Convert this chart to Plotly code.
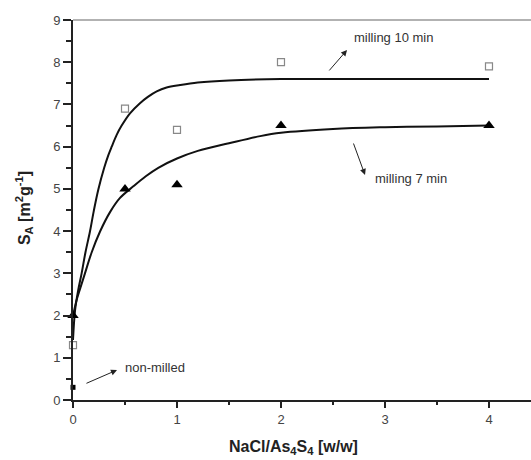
import plotly.graph_objects as go

# Measured data
ratio = [0, 0.5, 1, 2, 4]
sa_10min = [1.3, 6.9, 6.4, 8.0, 7.9]
sa_7min = [2.0, 5.0, 5.1, 6.5, 6.5]
nonmilled_x = [0]
nonmilled_y = [0.3]

# Fitted curves
fit10_x = [0, 0.02, 0.05, 0.083, 0.12, 0.163, 0.2, 0.243, 0.3, 0.34, 0.372, 0.42, 0.468, 0.548, 0.644, 0.72, 0.805, 0.9, 1.03, 1.2, 1.5, 2, 3, 4]
fit10_y = [1.42, 2.13, 2.6, 3.0, 3.5, 3.99, 4.48, 4.98, 5.5, 5.8, 6.0, 6.28, 6.5, 6.79, 7.03, 7.18, 7.31, 7.4, 7.46, 7.52, 7.57, 7.6, 7.6, 7.6]
fit7_x = [0, 0.035, 0.07, 0.115, 0.18, 0.26, 0.356, 0.45, 0.58, 0.7, 0.82, 1.0, 1.2, 1.5, 1.8, 2.0, 2.5, 3, 3.5, 4]
fit7_y = [2.0, 2.37, 2.65, 3.0, 3.5, 3.99, 4.45, 4.78, 5.06, 5.3, 5.5, 5.72, 5.9, 6.08, 6.25, 6.33, 6.42, 6.46, 6.48, 6.5]

x_ticks = [0, 1, 2, 3, 4]
y_ticks = [0, 1, 2, 3, 4, 5, 6, 7, 8, 9]

fig = go.Figure()
fig.add_trace(go.Scatter(x=fit10_x, y=fit10_y, mode="lines", line=dict(color="#111", width=2, shape="spline", smoothing=1), showlegend=False))
fig.add_trace(go.Scatter(x=fit7_x, y=fit7_y, mode="lines", line=dict(color="#111", width=2, shape="spline", smoothing=1), showlegend=False))
fig.add_trace(go.Scatter(x=ratio, y=sa_10min, mode="markers", cliponaxis=False,
                         marker=dict(symbol="square-open", size=7, color="#888", line=dict(width=1.2)), showlegend=False))
fig.add_trace(go.Scatter(x=ratio, y=sa_7min, mode="markers", cliponaxis=False,
                         marker=dict(symbol="triangle-up", size=10, color="#000"), showlegend=False))
fig.add_trace(go.Scatter(x=nonmilled_x, y=nonmilled_y, mode="markers", cliponaxis=False,
                         marker=dict(symbol="square", size=5, color="#000"), showlegend=False))

font_main = "Liberation Sans, Arial, sans-serif"
fig.update_layout(
    width=531, height=460,
    margin=dict(l=73, r=0, t=20, b=60),
    paper_bgcolor="white", plot_bgcolor="white",
    font=dict(family=font_main, size=13, color="#444"),
    xaxis=dict(range=[0, 4.404], tickvals=x_ticks, ticks="outside", ticklen=6, tickwidth=1.5, automargin=False,
               tickcolor="#222", showline=True, linecolor="#222", linewidth=2, showgrid=False, zeroline=False,
               minor=dict(dtick=0.5, ticks="outside", ticklen=3, tickwidth=1.5, tickcolor="#222"),
               tickfont=dict(size=13, color="#444")),
    yaxis=dict(range=[0, 9], tickvals=y_ticks, ticks="outside", ticklen=8, tickwidth=1.5, automargin=False,
               tickcolor="#222", showline=True, linecolor="#222", linewidth=2, showgrid=False, zeroline=False,
               minor=dict(dtick=0.5, ticks="outside", ticklen=5, tickwidth=1.5, tickcolor="#222"),
               tickfont=dict(size=13, color="#444")),
    shapes=[dict(type="line", xref="paper", yref="paper", x0=0, x1=1, y0=1, y1=1,
                 line=dict(color="#999", width=1.5))],
)

ann = []
# axis titles
ann.append(dict(xref="paper", yref="paper", x=0.4825, y=-0.1237, text="<b>NaCl/As<sub>4</sub>S<sub>4</sub> [w/w]</b>",
                showarrow=False, font=dict(size=16, color="#222"), xanchor="center", yanchor="middle"))
ann.append(dict(xref="paper", yref="paper", x=-0.107, y=0.505, text="<b>S<sub>A</sub> [m<sup>2</sup>g<sup>-1</sup>]</b>",
                showarrow=False, textangle=-90, font=dict(size=16, color="#222"), xanchor="center", yanchor="middle"))
# arrows
for (hx, hy, tx, ty) in [(2.635, 8.29, 2.452, 7.77), (2.808, 5.33, 2.692, 6.11), (0.423, 0.71, 0.115, 0.38)]:
    ann.append(dict(x=hx, y=hy, ax=tx, ay=ty, xref="x", yref="y", axref="x", ayref="y", text="",
                    showarrow=True, arrowhead=2, arrowsize=1.2, arrowwidth=1, arrowcolor="#222"))
# labels
ann.append(dict(x=2.683, y=8.58, xref="x", yref="y", text="milling 10 min", showarrow=False,
                xanchor="left", yanchor="middle", font=dict(size=13, color="#333")))
ann.append(dict(x=2.885, y=5.24, xref="x", yref="y", text="milling 7 min", showarrow=False,
                xanchor="left", yanchor="middle", font=dict(size=13, color="#333")))
ann.append(dict(x=0.484, y=0.77, xref="x", yref="y", text="non-milled", showarrow=False,
                xanchor="left", yanchor="middle", font=dict(size=13, color="#333")))
fig.update_layout(annotations=ann)

fig.write_html("out.html", config={"displayModeBar": False},
               post_script="document.body.style.margin='0';")
